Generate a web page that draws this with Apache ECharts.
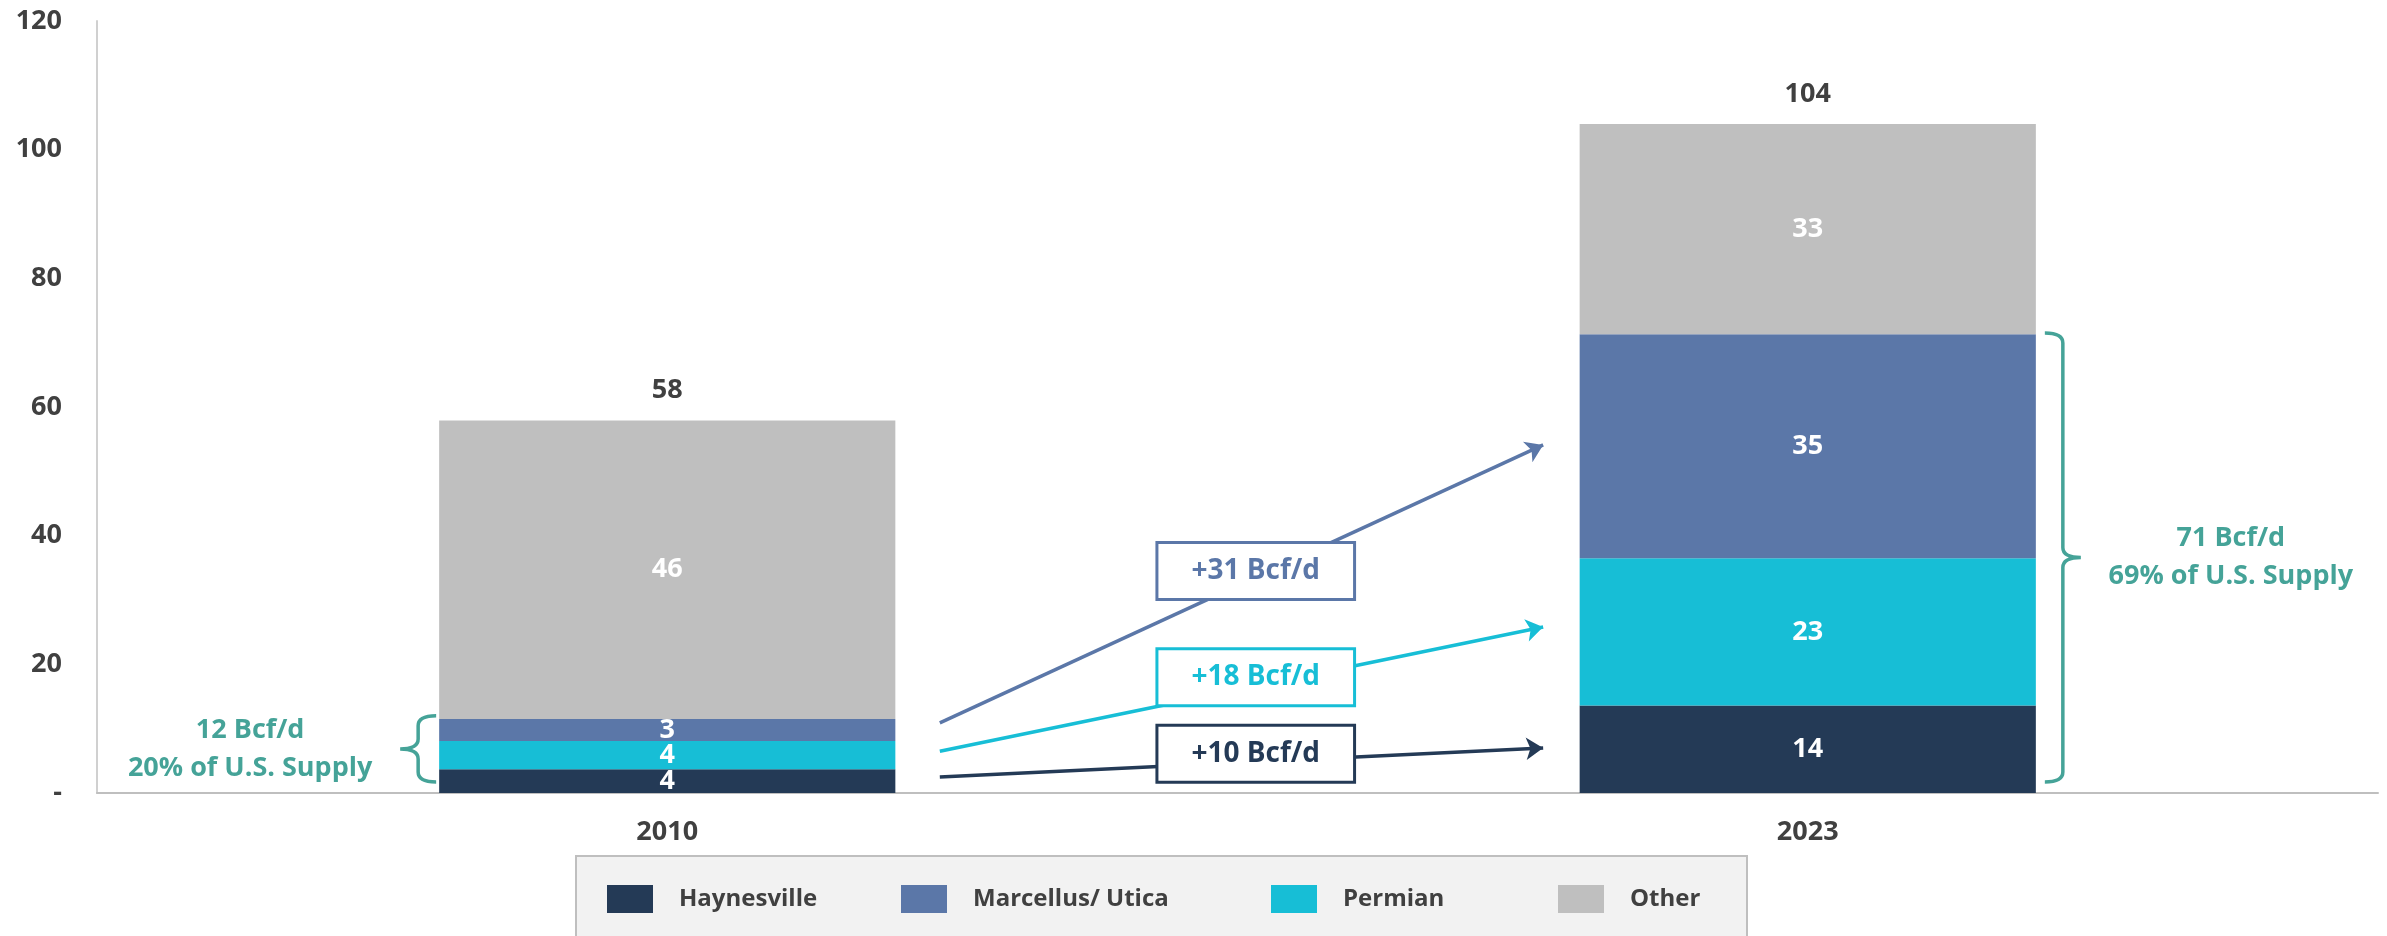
<!DOCTYPE html>
<html>
<head>
<meta charset="utf-8">
<script src="https://cdn.jsdelivr.net/npm/echarts@6/dist/echarts.min.js"></script>
<style>
html,body{margin:0;padding:0;background:#fff;}
#chart{width:2387px;height:936px;}
</style>
</head>
<body>
<div id="chart"></div>
<script>
// ---- data ----
const categories = ['2010', '2023'];
const seriesNames = ['Haynesville', 'Marcellus/ Utica', 'Permian', 'Other'];
const haynesville = [3.7, 13.6];
const marcellus = [3.4, 34.8];
const permian = [4.4, 22.9];
const other = [46.4, 32.7];
const yTicks = [0, 20, 40, 60, 80, 100, 120];
// change annotations (Haynesville, Permian, Marcellus): start / end values, box value
const changeLabels = ['+10 Bcf/d', '+18 Bcf/d', '+31 Bcf/d'];
const arrowFrom = [2.5, 6.5, 10.9];
const arrowTo = [7.0, 25.8, 54.1];
const boxAt = [6.1, 18.0, 34.5];
const braceTexts = ['12 Bcf/d\n20% of U.S. Supply', '71 Bcf/d\n69% of U.S. Supply'];

// ---- styles ----
const colors = {
  'Haynesville': '#243A56',
  'Marcellus/ Utica': '#5B77A8',
  'Permian': '#17BED6',
  'Other': '#BFBFBF'
};
const teal = '#45A398';
const textDark = '#404040';
const FONT = '"Open Sans", "Noto Sans", sans-serif';

const totals = categories.map((c, i) => haynesville[i] + marcellus[i] + permian[i] + other[i]);
const shale = categories.map((c, i) => haynesville[i] + marcellus[i] + permian[i]);

const chart = echarts.init(document.getElementById('chart'), null, {renderer: 'canvas'});

function barSeries(name, data) {
  return {
    name: name, type: 'bar', stack: 'total', data: data, barWidth: '40%',
    xAxisIndex: 0, yAxisIndex: 0,
    itemStyle: {color: colors[name]},
    label: {
      show: true, position: 'inside', color: '#fff', fontFamily: FONT,
      fontWeight: 'bold', fontSize: 27,
      formatter: p => Math.round(p.value)
    },
    emphasis: {disabled: true},
    z: 2
  };
}

const arrowOrder = ['Haynesville', 'Permian', 'Marcellus/ Utica'];
const startX = 0.239, endX = 0.768, boxX = 0.516;

const arrowSeries = arrowOrder.map((name, i) => ({
  type: 'lines', coordinateSystem: 'cartesian2d', xAxisIndex: 1, yAxisIndex: 0,
  symbol: ['none', 'arrow'], symbolSize: 17,
  lineStyle: {color: colors[name], width: 3.5, opacity: 1},
  data: [{coords: [[startX, arrowFrom[i]], [endX, arrowTo[i]]]}],
  silent: true, z: 3
}));

const boxSeries = arrowOrder.map((name, i) => ({
  type: 'scatter', xAxisIndex: 1, yAxisIndex: 0,
  symbolSize: 1, itemStyle: {color: 'rgba(255,255,255,0)', opacity: 1},
  data: [[boxX, boxAt[i]]],
  label: {
    show: true, position: 'inside', formatter: changeLabels[i],
    color: colors[name], fontFamily: FONT, fontWeight: 'bold', fontSize: 28,
    lineHeight: 32, opacity: 1,
    backgroundColor: '#fff', borderColor: colors[name], borderWidth: 3,
    padding: [11, 33]
  },
  emphasis: {disabled: true},
  silent: true, z: 5
}));

const totalSeries = {
  type: 'scatter', xAxisIndex: 0, yAxisIndex: 0,
  symbolSize: 1, itemStyle: {color: 'rgba(255,255,255,0)', opacity: 1},
  data: totals,
  label: {
    show: true, position: 'top', distance: 16, color: textDark, opacity: 1,
    fontFamily: FONT, fontWeight: 'bold', fontSize: 27,
    formatter: p => Math.round(p.value)
  },
  emphasis: {disabled: true},
  silent: true, z: 4
};

// braces: [x edge (value units), yBottom, yTop, direction]
const braceData = [
  [0 - 0.2, 1.7, shale[0] + 0.5, -1],
  [1 + 0.2, 1.7, shale[1] + 0.2, 1]
];
const braceSeries = {
  type: 'custom', coordinateSystem: 'cartesian2d', xAxisIndex: 1, yAxisIndex: 0,
  data: braceData, silent: true, z: 4, clip: false,
  renderItem: function (params, api) {
    const dir = api.value(3);
    const pTop = api.coord([api.value(0), api.value(2)]);
    const pBot = api.coord([api.value(0), api.value(1)]);
    const gap = dir < 0 ? 3 : 9;
    const ax = pTop[0] + dir * gap;
    const vx = ax + dir * 18;
    const tx = vx + dir * 18;
    const top = pTop[1], bot = pBot[1], mid = (top + bot) / 2;
    const r = 10;
    const d = `M${ax},${top} Q${vx},${top} ${vx},${top + r} L${vx},${mid - r} Q${vx},${mid} ${tx},${mid} ` +
              `Q${vx},${mid} ${vx},${mid + r} L${vx},${bot - r} Q${vx},${bot} ${ax},${bot}`;
    return {
      type: 'group',
      children: [
        {type: 'path', shape: {pathData: d}, style: {fill: 'none', stroke: teal, lineWidth: 3.5}},
        {type: 'text', style: {
          text: braceTexts[params.dataIndex], x: tx + dir * 150, y: mid,
          align: 'center', verticalAlign: 'middle', lineHeight: 38,
          fill: teal, fontFamily: FONT, fontWeight: 'bold', fontSize: 27
        }}
      ]
    };
  }
};

const legendLefts = [607, 901, 1271, 1558];
const legends = seriesNames.map((name, i) => ({
  data: [name], left: legendLefts[i], top: 885, orient: 'horizontal',
  padding: 0, itemWidth: 46, itemHeight: 28, icon: 'rect',
  selectedMode: false,
  textStyle: {color: textDark, fontFamily: FONT, fontWeight: 'bold', fontSize: 24, padding: [0, 0, 0, 21]}
}));

const option = {
  animation: false,
  backgroundColor: '#fff',
  grid: {left: 97, right: 9, top: 21, bottom: 143, containLabel: false},
  legend: legends,
  graphic: [{
    type: 'rect', left: 575, top: 855, z: 0,
    shape: {width: 1171, height: 100},
    style: {fill: '#F2F2F2', stroke: '#BFBFBF', lineWidth: 2}
  }],
  xAxis: [{
    type: 'category', data: categories,
    axisLine: {show: true, onZero: false, lineStyle: {color: '#BFBFBF', width: 2}},
    axisTick: {show: false},
    axisLabel: {color: textDark, fontFamily: FONT, fontWeight: 'bold', fontSize: 27, margin: 26},
    splitLine: {show: false}
  }, {
    type: 'value', min: -0.5, max: 1.5, show: false,
    axisLine: {show: false, onZero: false}, splitLine: {show: false}
  }],
  yAxis: [{
    type: 'value', min: yTicks[0], max: yTicks[yTicks.length - 1], interval: 20,
    axisLine: {show: true, onZero: false, lineStyle: {color: '#D0D0D0', width: 2}},
    axisTick: {show: false},
    splitLine: {show: false},
    axisLabel: {
      color: textDark, fontFamily: FONT, fontWeight: 'bold', fontSize: 27, margin: 35,
      formatter: v => v === 0 ? '-' : String(v)
    }
  }],
  series: [
    barSeries('Haynesville', haynesville),
    barSeries('Permian', permian),
    barSeries('Marcellus/ Utica', marcellus),
    barSeries('Other', other),
    totalSeries,
    braceSeries
  ].concat(arrowSeries, boxSeries)
};
chart.setOption(option);
</script>
</body>
</html>
